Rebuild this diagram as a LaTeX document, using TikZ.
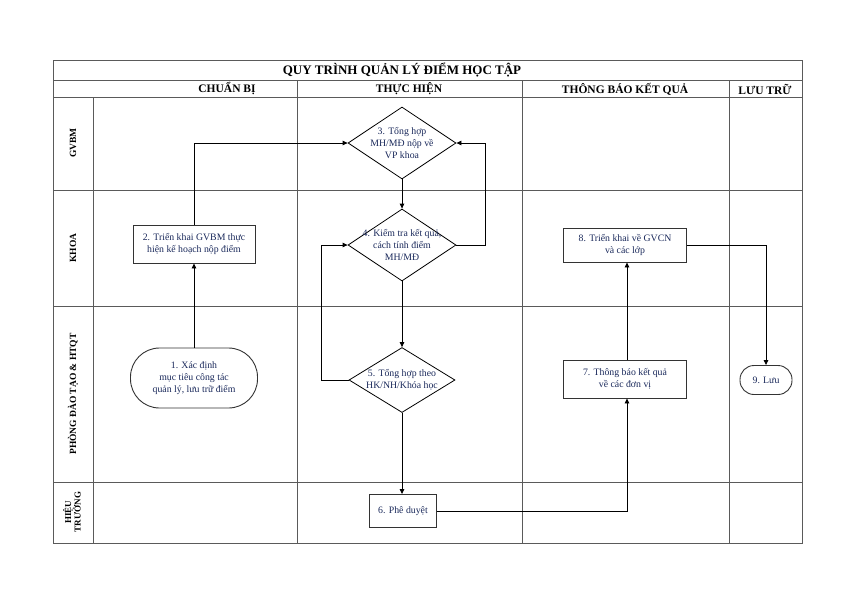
\documentclass[tikz,border=0pt]{standalone}
\usepackage{fontspec}
\setmainfont{Liberation Serif}
\usetikzlibrary{shapes.geometric, arrows.meta}
\definecolor{navy}{RGB}{25,40,90}
\definecolor{gridc}{RGB}{90,90,90}
\begin{document}
\begin{tikzpicture}[x=1pt,y=-1pt,
  grid/.style={draw=gridc, line width=1pt},
  box/.style={draw=black!80, line width=0.9pt, rectangle, inner sep=0pt, font=\fontsize{9.8}{12}\selectfont, text=navy, align=center},
  dia/.style={draw=black, line width=0.8pt, diamond, inner sep=0pt},
  dtext/.style={font=\fontsize{9.8}{12}\selectfont, text=navy, align=center},
  hdr/.style={font=\fontsize{11.5}{12}\selectfont\bfseries},
  lane/.style={font=\fontsize{9.5}{10}\selectfont\bfseries, rotate=90, align=center},
  conn/.style={draw=black, line width=0.8pt, -{Triangle[length=5pt,width=4.5pt]}}
]
\useasboundingbox (0,0) rectangle (842,595);
% frame and grid
\draw[grid] (53,60) rectangle (802,543);
\draw[grid] (53,80) -- (802,80);
\draw[grid] (53,97) -- (802,97);
\draw[grid] (53,190) -- (802,190);
\draw[grid] (53,306) -- (802,306);
\draw[grid] (53,482) -- (802,482);
\draw[grid] (93,97) -- (93,543);
\draw[grid] (297,80) -- (297,543);
\draw[grid] (522,80) -- (522,543);
\draw[grid] (729,80) -- (729,543);
% titles
\node[font=\fontsize{13}{14}\selectfont\bfseries] (title) at (402,70) {QUY TRÌNH QUẢN LÝ ĐIỂM HỌC TẬP};
\node[hdr] (h1) at (227,89) {CHUẨN BỊ};
\node[hdr] (h2) at (409,89) {THỰC HIỆN};
\node[hdr] (h3) at (625,89) {THÔNG BÁO KẾT QUẢ};
\node[hdr] (h4) at (765,89) {LƯU TRỮ};
\node[lane] (l1) at (73,143) {GVBM};
\node[lane] (l2) at (73,248) {KHOA};
\node[lane] (l3) at (73,394) {PHÒNG ĐÀO TẠO \& HTQT};
\node[lane, font=\fontsize{9}{9.5}\selectfont\bfseries] (l4) at (72,512) {HIỆU\\TRƯỞNG};
% nodes
\node[box, rounded corners=29pt, minimum width=127pt, minimum height=60pt] (n1) at (194,378) {1. Xác định\\mục tiêu công tác\\quản lý, lưu trữ điểm};
\node[box, minimum width=122pt, minimum height=38pt] (n2) at (194,244) {2. Triển khai GVBM thực\\hiện kế hoạch nộp điểm};
\node[dia, minimum width=108pt, minimum height=72pt, label={[dtext]center:{3. Tổng hợp\\MH/MĐ nộp về\\VP khoa}}] (n3) at (402,143) {};
\node[dia, minimum width=108pt, minimum height=72pt, label={[dtext]center:{4. Kiểm tra kết quả,\\cách tính điểm\\MH/MĐ}}] (n4) at (402,245) {};
\node[dia, minimum width=106pt, minimum height=65pt, label={[dtext]center:{5. Tổng hợp theo\\HK/NH/Khóa học}}] (n5) at (402,380) {};
\node[box, minimum width=67pt, minimum height=33pt] (n6) at (403,511) {6. Phê duyệt};
\node[box, minimum width=123pt, minimum height=38pt] (n7) at (625,379) {7. Thông báo kết quả\\về các đơn vị};
\node[box, minimum width=123pt, minimum height=34pt] (n8) at (625,245) {8. Triển khai về GVCN\\và các lớp};
\node[box, rounded corners=14pt, minimum width=52pt, minimum height=29pt] (n9) at (766,380) {9. Lưu};
% connectors
\draw[conn] (n1.north) -- (n2.south);
\draw[conn] (n2.north) |- (n3.west);
\draw[conn] (n3.south) -- (n4.north);
\draw[conn] (n4.east) -- ++(29,0) |- (n3.east);
\draw[conn] (n4.south) -- (n5.north);
\draw[conn] (n5.west) -- ++(-27,0) |- (n4.west);
\draw[conn] (n5.south) -- (n5.south |- n6.north);
\draw[conn] (n6.east) -| ([xshift=2pt]n7.south);
\draw[conn] ([xshift=2pt]n7.north) -- ([xshift=2pt]n8.south);
\draw[conn] (n8.east) -| (n9.north);
\end{tikzpicture}
\end{document}
